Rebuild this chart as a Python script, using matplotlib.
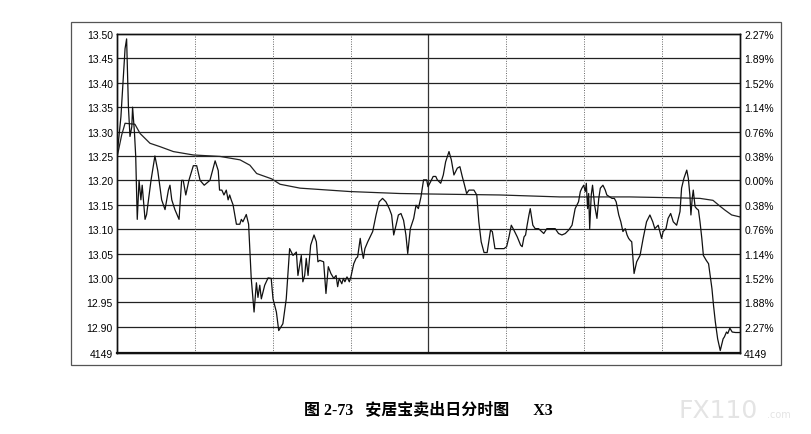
import matplotlib
matplotlib.use("Agg")
import matplotlib.pyplot as plt
from matplotlib.patches import Rectangle

# intraday price (minutes from open, price)
minutes = [0, 1.5, 3.1, 3.7, 4.4, 5.0, 5.7, 6.0, 6.7, 7.2, 7.8, 8.5, 9.2, 9.7, 10.8, 11.4,
           13.1, 14.6, 15.7, 17.2, 18.5, 19.8, 20.4, 21.1, 22.3, 23.9, 24.9, 25.5, 26.5, 27.7,
           29.4, 30.7, 32.0, 33.6, 35.8, 37.8, 39.0,
           39.5, 40.4, 41.2, 42.1, 42.8, 43.4, 44.0, 44.7, 46.0, 47.3, 47.9, 48.5, 49.8, 50.7,
           51.7, 52.8, 53.7, 54.3, 55.0, 55.6, 56.9, 58.2, 59.4, 60.1, 61.4, 62.3, 63.9, 65.2,
           66.5, 67.8, 69.1, 69.7, 71.0, 71.6, 72.3, 72.9, 73.6, 74.6, 75.9, 76.8, 77.4, 78.1,
           79.6, 80.5, 81.4, 82.4, 83.5, 84.4, 85.0, 85.6, 86.6, 87.2, 87.8, 88.6, 89.5, 90.1,
           91.2, 92.1, 92.7, 93.7, 94.3, 94.9, 95.5, 96.6, 98.5, 99.8, 101.0, 102.3, 103.6,
           104.9, 105.8, 106.6, 107.5, 108.4, 109.4, 110.4, 111.3, 112.0, 113.0, 114.3, 115.2,
           116.1, 117.1, 118.1,
           119.3, 119.8, 120.8, 121.8, 122.8, 123.4, 124.7, 125.7, 126.6, 127.9, 128.8, 129.8,
           131.1, 132.1, 133.0, 133.7, 134.7, 135.6, 137.5, 138.6, 139.4, 140.3, 141.4, 142.6,
           143.9, 144.6, 145.6, 146.5, 149.1, 150.1, 151.0, 151.9, 152.9, 154.2, 155.5, 156.1,
           156.8, 157.4, 158.0, 158.7, 159.2,
           160.2, 161.1, 162.4, 164.4, 165.6, 167.6, 168.8, 170.1, 171.4, 172.7, 174.0, 175.3,
           176.5, 177.8, 178.5, 179.1, 179.8, 180.4, 180.8, 181.3, 181.7, 182.1, 182.7, 183.2,
           184.0, 184.9, 185.6, 186.2, 187.2, 188.1, 188.7, 189.8, 190.7, 191.6, 192.3, 193.3,
           194.1, 194.9, 195.8, 196.5, 197.1, 197.7,
           198.3, 199.2, 200.2, 201.5, 202.7, 204.0, 205.3, 206.4, 207.2, 208.5, 209.8, 210.4,
           211.5, 212.3, 213.3, 214.3, 215.6, 216.9, 217.5, 218.4, 219.5, 220.1, 220.7, 221.1,
           221.6, 222.0, 222.7, 223.3, 224.0, 224.6, 225.3, 225.9, 227.0, 227.9, 228.5, 229.2,
           229.8, 230.5, 231.4, 232.4, 233.5, 234.0, 234.8, 235.3, 236.1, 237.0, 238.3, 240]
prices = [13.25, 13.33, 13.47, 13.49, 13.35, 13.29, 13.31, 13.35, 13.30, 13.25, 13.12, 13.20,
          13.16, 13.19, 13.12, 13.13, 13.20, 13.25, 13.22, 13.16, 13.14, 13.18, 13.19, 13.16,
          13.14, 13.12, 13.20, 13.20, 13.17, 13.20, 13.23, 13.23, 13.20, 13.19, 13.20, 13.24,
          13.22,
          13.18, 13.18, 13.17, 13.18, 13.16, 13.17, 13.16, 13.15, 13.11, 13.11, 13.12, 13.115,
          13.13, 13.11, 13.00, 12.93, 12.99, 12.96, 12.985, 12.957, 12.985, 13.00, 12.999,
          12.957, 12.93, 12.892, 12.906, 12.957, 13.06, 13.046, 13.053, 13.005, 13.046, 12.992,
          13.005, 13.040, 13.005, 13.067, 13.088, 13.074, 13.033, 13.036,
          13.033, 12.968, 13.023, 13.009, 12.999, 13.005, 12.982, 12.999, 12.988, 12.999,
          12.992, 13.002, 12.992, 13.002, 13.029, 13.040, 13.043, 13.081, 13.057, 13.040,
          13.060, 13.074, 13.095, 13.129, 13.156, 13.163, 13.156, 13.142, 13.129, 13.088,
          13.108, 13.129, 13.132, 13.118, 13.088, 13.050, 13.101, 13.122, 13.149, 13.142,
          13.166, 13.201,
          13.201, 13.187, 13.197, 13.208, 13.208, 13.201, 13.194, 13.211, 13.238, 13.259,
          13.242, 13.211, 13.225, 13.228, 13.208, 13.194, 13.173, 13.180, 13.180, 13.170,
          13.115, 13.074, 13.052, 13.052, 13.098, 13.095, 13.060, 13.060, 13.060, 13.064,
          13.084, 13.108, 13.098, 13.084, 13.067, 13.064, 13.084, 13.088, 13.108, 13.129,
          13.142,
          13.108, 13.101, 13.101, 13.091, 13.101, 13.101, 13.101, 13.091, 13.088, 13.091,
          13.098, 13.108, 13.142, 13.156, 13.177, 13.184, 13.190, 13.177, 13.194, 13.142,
          13.173, 13.101, 13.170, 13.190, 13.149, 13.122, 13.163, 13.184, 13.190, 13.180,
          13.170, 13.166, 13.163, 13.163, 13.156, 13.129, 13.115, 13.095, 13.101, 13.088,
          13.081, 13.077,
          13.074, 13.009, 13.033, 13.046, 13.081, 13.115, 13.129, 13.115, 13.101, 13.108,
          13.081, 13.095, 13.101, 13.122, 13.132, 13.115, 13.108, 13.136, 13.184, 13.204,
          13.221, 13.204, 13.170, 13.129, 13.163, 13.180, 13.146, 13.142, 13.139, 13.115,
          13.081, 13.046, 13.036, 13.029, 13.005, 12.978, 12.944, 12.910, 12.875, 12.851,
          12.875, 12.879, 12.889, 12.886, 12.897, 12.889, 12.888, 12.888]

# average price line
avg_minutes = [0.2, 1.8, 3.1, 6.9, 8.9, 12.7, 16.6, 21.7, 29.4, 39.7, 47.4, 51.2, 53.8, 59.6,
               62.8, 70.5, 89.8, 109.0, 120.6, 147.5, 170.6, 197.6, 216.9, 224.6, 229.6,
               232.3, 234.2, 236.8, 240]
avg_prices = [13.252, 13.293, 13.317, 13.315, 13.296, 13.276, 13.269, 13.259, 13.252, 13.249,
              13.242, 13.231, 13.214, 13.203, 13.192, 13.184, 13.177, 13.173, 13.172, 13.170,
              13.166, 13.166, 13.164, 13.163, 13.159, 13.147, 13.139, 13.129, 13.125]

price_ticks = [13.50, 13.45, 13.40, 13.35, 13.30, 13.25, 13.20, 13.15, 13.10, 13.05,
               13.00, 12.95, 12.90]
pct_labels = ["2.27%", "1.89%", "1.52%", "1.14%", "0.76%", "0.38%", "0.00%", "0.38%",
              "0.76%", "1.14%", "1.52%", "1.88%", "2.27%"]
volume_label = "4149"
y_bottom = 12.846
half_hours = [30, 60, 90, 120, 150, 180, 210]

fig = plt.figure(figsize=(8.12, 4.35), dpi=100)
fig.patch.set_facecolor("white")

# outer frame
fig.patches.append(Rectangle((0.0874, 0.1586), 0.8744, 0.7885, transform=fig.transFigure,
                             fill=False, edgecolor="#555555", linewidth=0.9))

ax = fig.add_axes([0.1441, 0.1862, 0.7672, 0.7333])
ax.set_xlim(0, 240)
ax.set_ylim(y_bottom, 13.50)

for p in price_ticks[1:]:
    ax.axhline(p, color="#222222", linewidth=0.9, zorder=1)
for h in half_hours:
    if h == 120:
        ax.axvline(h, color="#333333", linewidth=0.9, zorder=1)
    else:
        ax.axvline(h, color="#666666", linewidth=0.7, linestyle=(0, (1, 1.5)), zorder=1)

ax.plot(avg_minutes, avg_prices, color="#222222", linewidth=0.9, zorder=2)
ax.plot(minutes, prices, color="#111111", linewidth=0.9, zorder=3)

ax.set_xticks([])
ticks = price_ticks + [y_bottom]
ax.set_yticks(ticks)
ax.set_yticklabels(["%.2f" % p for p in price_ticks] + [volume_label])
ax.tick_params(axis="y", length=0, pad=3, labelsize=7.5)
for lab in ax.get_yticklabels():
    lab.set_family("Liberation Sans")

ax2 = ax.twinx()
ax2.set_ylim(ax.get_ylim())
ax2.set_yticks(ticks)
ax2.set_yticklabels(pct_labels + [volume_label])
ax2.tick_params(axis="y", length=0, pad=3, labelsize=7.5)
for lab in ax2.get_yticklabels():
    lab.set_family("Liberation Sans")

for a in (ax, ax2):
    for s in a.spines.values():
        s.set_color("#111111")
        s.set_linewidth(1.0)
ax.spines["bottom"].set_linewidth(1.6)

fig.text(0.527, 0.057, "图 2-73   安居宝卖出日分时图      X3", ha="center", va="center",
         fontsize=11.5, fontweight="bold", family=["Liberation Serif", "Noto Sans CJK SC"])

# watermark
fig.text(0.835, 0.055, "FX110", ha="left", va="center", fontsize=18, color="#e4e4e4",
         family="DejaVu Sans")
fig.text(0.945, 0.045, ".com", ha="left", va="center", fontsize=7, color="#e4e4e4",
         family="DejaVu Sans")

fig.savefig("out.png", dpi=100)
